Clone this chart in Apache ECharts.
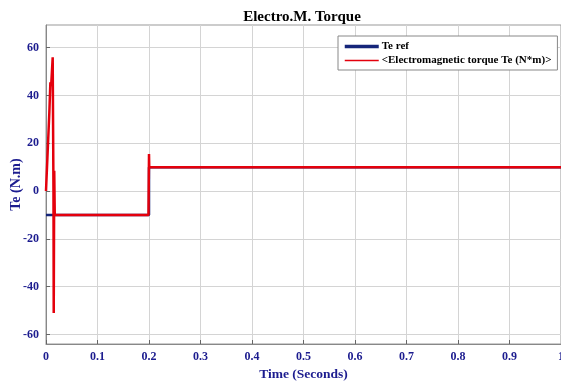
<!DOCTYPE html>
<html><head><meta charset="utf-8">
<script src="https://cdn.jsdelivr.net/npm/echarts@6/dist/echarts.min.js"></script>
<style>html,body{margin:0;padding:0;background:#fff}#c{width:561px;height:385px}</style>
</head><body><div id="c"></div>
<script>
const yTicks = [-60, -40, -20, 0, 20, 40, 60];
const refTime = [0, 0.2, 0.2, 1.0];
const refTorque = [-10, -10, 10, 10];
const teTime = [0, 0.0065, 0.0085, 0.0095, 0.0100, 0.0130, 0.0145, 0.0150, 0.0160, 0.0170, 0.199, 0.2, 0.2005, 1.0];
const teTorque = [0, 33, 45.5, 46, 44, 56, 0, -51, 8.5, -10, -10, 15.5, 10, 10];
const seriesNames = ['Te ref', '<Electromagnetic torque Te (N*m)>'];

const zip = (a, b) => a.map((v, i) => [v, b[i]]);
const navy = '#1c1c8f';
const font = 'Liberation Serif';
const chart = echarts.init(document.getElementById('c'));
chart.setOption({
  animation: false,
  title: { text: 'Electro.M. Torque', left: 297, top: 5, textAlign: 'center',
    textStyle: { fontFamily: font, fontWeight: 'bold', fontSize: 15, color: '#000' } },
  legend: {
    orient: 'vertical', left: 338, top: 36, itemGap: 3,
    padding: [5, 6, 4, 5], backgroundColor: '#fff', borderColor: '#888', borderWidth: 1, borderRadius: 0,
    itemWidth: 34, itemHeight: 8, itemStyle: { opacity: 0 },
    textStyle: { fontFamily: font, fontWeight: 'bold', fontSize: 11, color: '#000', padding: [0, 0, 0, -2] },
    data: [
      { name: seriesNames[0], lineStyle: { width: 3.5 } },
      { name: seriesNames[1], lineStyle: { width: 1.5 } }
    ]
  },
  grid: { left: 46, right: 0, top: 25, bottom: 41, show: true, borderColor: '#999', borderWidth: 1,
    outerBoundsMode: 'none', containLabel: false },
  xAxis: {
    type: 'value', min: 0, max: 1, interval: 0.1,
    name: 'Time (Seconds)', nameLocation: 'middle', nameGap: 24,
    nameTextStyle: { fontFamily: font, fontWeight: 'bold', fontSize: 13.5, color: navy },
    axisLine: { show: true, onZero: false, lineStyle: { color: '#888' } },
    axisTick: { show: true, inside: true, length: 4, lineStyle: { color: '#666' } },
    axisLabel: { margin: 7, fontFamily: font, fontWeight: 'bold', fontSize: 12, color: navy },
    splitLine: { show: true, lineStyle: { color: '#d4d4d4' } }
  },
  yAxis: {
    type: 'value', min: -64, max: 69.5,
    name: 'Te (N.m)', nameLocation: 'middle', nameGap: 23, nameRotate: 90, nameMoveOverlap: false,
    nameTextStyle: { fontFamily: font, fontWeight: 'bold', fontSize: 14, color: navy },
    axisLine: { show: true, onZero: false, lineStyle: { color: '#888' } },
    axisTick: { show: true, inside: true, length: 4, customValues: yTicks, lineStyle: { color: '#666' } },
    axisLabel: { margin: 7, customValues: yTicks, fontFamily: font, fontWeight: 'bold', fontSize: 12, color: navy },
    splitLine: { show: true, lineStyle: { color: '#d4d4d4' } }
  },
  series: [
    { name: seriesNames[0], type: 'line', data: zip(refTime, refTorque), symbol: 'none',
      lineStyle: { color: '#15257a', width: 2.5 }, itemStyle: { color: '#15257a' } },
    { name: seriesNames[1], type: 'line', data: zip(teTime, teTorque), symbol: 'none',
      lineStyle: { color: '#e4000c', width: 2.5 }, itemStyle: { color: '#e4000c' } }
  ]
});
</script></body></html>
